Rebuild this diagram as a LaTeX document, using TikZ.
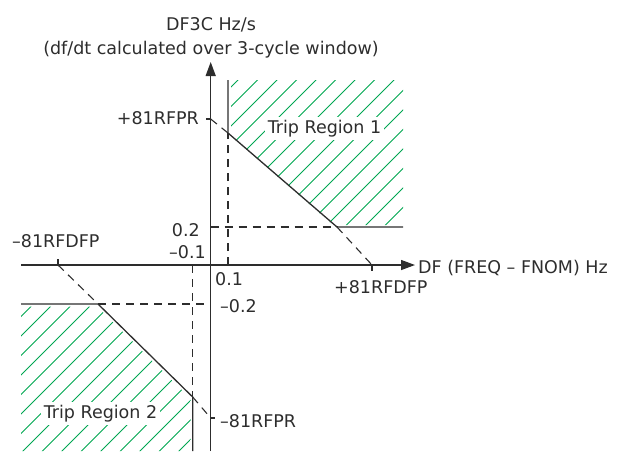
\documentclass[tikz,border=0pt]{standalone}
\usepackage{fontspec}
\setmainfont{DejaVu Sans}
\usetikzlibrary{arrows.meta}
\definecolor{ink}{RGB}{45,45,45}
\definecolor{hatchgreen}{RGB}{0,166,81}

\begin{document}
\begin{tikzpicture}[x=1pt,y=-1pt,
  every node/.style={font=\fontsize{17.5}{21}\selectfont,text=ink,inner sep=0pt},
  axis/.style={ink,line width=1.3pt,-{Triangle[length=14pt,width=10pt]}},
  bound/.style={ink,line width=1.3pt},
  guide/.style={ink,line width=1.1pt,dash pattern=on 8pt off 6pt},
  tickmark/.style={ink,line width=1.1pt},
  hatch/.style={hatchgreen,line width=0.8pt},
  region/.style={fill=white,inner sep=3pt}]
  \useasboundingbox (0,0) rectangle (621,451);

  \coordinate (xstart) at (21,265);
  \coordinate (xend) at (415,265);
  \coordinate (ystart) at (210.7,451);
  \coordinate (yend) at (210.7,62);

  \coordinate (r1top) at (228,80);
  \coordinate (r1corner) at (228,133);
  \coordinate (r1knee) at (337,227);
  \coordinate (r1right) at (403,227);
  \coordinate (pfpr) at (210.7,119);
  \coordinate (pfprtick) at (206,119);
  \coordinate (pdfp) at (372,265);
  \coordinate (pdfptick) at (372,271);
  \coordinate (p01) at (228,265);
  \coordinate (p02) at (210.7,227);

  \coordinate (r2left) at (21,304);
  \coordinate (r2knee) at (98,304);
  \coordinate (r2corner) at (192.7,397);
  \coordinate (r2bottom) at (192.7,451);
  \coordinate (mfpr) at (210.7,418);
  \coordinate (mfprtick) at (215,418);
  \coordinate (mdfp) at (58,265);
  \coordinate (mdfptick) at (58,259);
  \coordinate (m01) at (192.7,265);
  \coordinate (m02) at (210.7,304);

  % hatched trip regions
  \begin{scope}
    \clip (231,80) -- (403,80) -- (403,225) -- (333,225) -- (231,136) -- cycle;
    \foreach \c in {298.5,318,...,660}
      \draw[hatch] (\c,0) -- ({\c-460},460);
  \end{scope}
  \begin{scope}
    \clip (21,306.5) -- (97,306.5) -- (190.5,398.5) -- (190.5,451) -- (21,451) -- cycle;
    \foreach \c in {298.5,318,...,660}
      \draw[hatch] (\c,0) -- ({\c-460},460);
  \end{scope}

  \draw[axis] (xstart) -- (xend);
  \draw[axis] (ystart) -- (yend);

  \draw[bound] (r1top) -- (r1corner) -- (r1knee) -- (r1right);
  \draw[guide] (pfpr) -- (r1corner);
  \draw[guide] (r1knee) -- (pdfp);
  \draw[guide] (p02) -- (r1knee);
  \draw[guide] (p01) -- (r1corner);
  \draw[tickmark] (pfprtick) -- (pfpr);
  \draw[tickmark] (pdfp) -- (pdfptick);

  \draw[bound] (r2left) -- (r2knee) -- (r2corner) -- (r2bottom);
  \draw[guide] (mdfp) -- (r2knee);
  \draw[guide] (r2corner) -- (mfpr);
  \draw[guide] (m01) -- (r2corner);
  \draw[guide] (r2knee) -- (m02);
  \draw[tickmark] (mdfptick) -- (mdfp);
  \draw[tickmark] (mfpr) -- (mfprtick);

  \node[anchor=base] (ytitle) at (211,30) {DF3C Hz/s};
  \node[anchor=base] (ysub) at (211,54) {(df/dt calculated over 3-cycle window)};
  \node[anchor=base west] (xtitle) at (418,273) {DF (FREQ \textendash{} FNOM) Hz};
  \node[anchor=base east] (lpfpr) at (199,124) {+81RFPR};
  \node[anchor=base east] (l02) at (200,236) {0.2};
  \node[anchor=base east] (lm01) at (206,258) {\textendash0.1};
  \node[anchor=base west] (lmdfp) at (12,247) {\textendash81RFDFP};
  \node[anchor=base west] (l01) at (215,285) {0.1};
  \node[anchor=base west] (lpdfp) at (334,293) {+81RFDFP};
  \node[anchor=base west] (lm02) at (220,312) {\textendash0.2};
  \node[anchor=base west] (lmfpr) at (220,427) {\textendash81RFPR};
  \node[region,anchor=base] (trip1) at (324.5,133) {Trip Region 1};
  \node[region,anchor=base] (trip2) at (100.5,418) {Trip Region 2};
\end{tikzpicture}
\end{document}
